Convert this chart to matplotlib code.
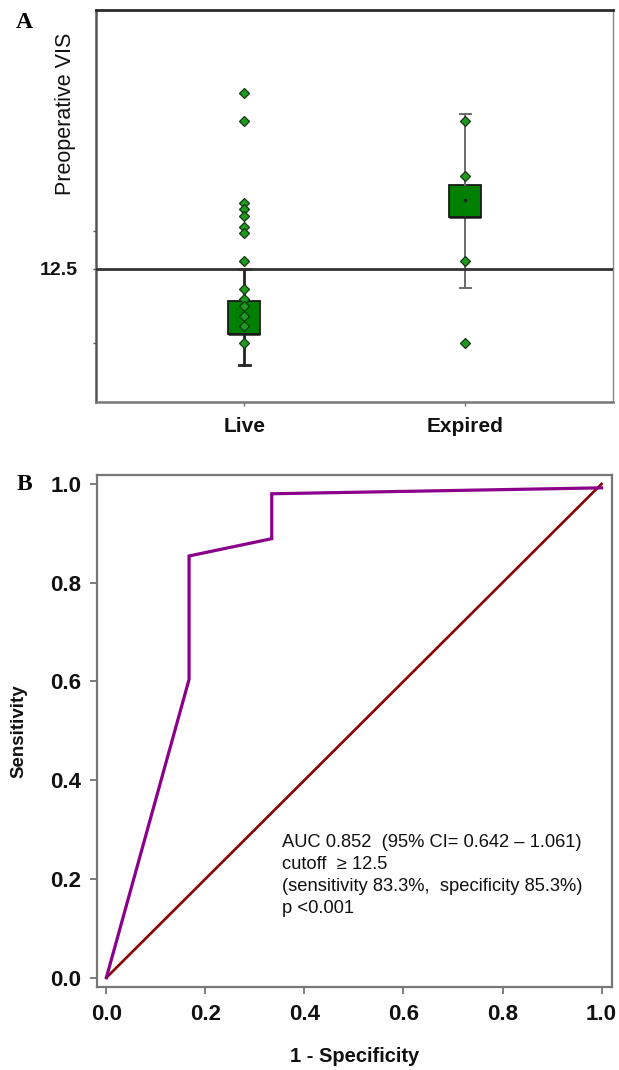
import numpy as np
import matplotlib
matplotlib.use("Agg")
import matplotlib.pyplot as plt

# ---------------- Data ----------------
# Panel A: preoperative VIS by outcome
categories = ["Live", "Expired"]
live_vis = [110, 78, 28.2, 26.2, 24.1, 21.1, 19.4, 13.8, 9.8, 8.65, 7.9, 7.0, 6.2, 5.0]
expired_vis = [78, 39.4, 13.8, 5.0]
box_q1 = [5.6, 23.9]
box_q3 = [8.4, 35.4]
box_med = [5.6, 23.9]
box_mean = [7.0, 29.2]
whisker_low = [3.8, 9.9]
whisker_high = [12.5, 85.2]
cutoff = 12.5
a_ticks = [5, 12.5, 20]
a_ticklabels = ["", "12.5", ""]

# Panel B: ROC curve
roc_fpr = [0.0, 0.167, 0.167, 0.334, 0.334, 1.0]
roc_tpr = [0.0, 0.604, 0.854, 0.889, 0.980, 0.992]
ref_x = [0.0, 1.0]
ref_y = [0.0, 1.0]
b_ticks = [0.0, 0.2, 0.4, 0.6, 0.8, 1.0]
annot_lines = ["AUC 0.852  (95% CI= 0.642 \u2013 1.061)",
               "cutoff  \u2265 12.5",
               "(sensitivity 83.3%,  specificity 85.3%)",
               "p <0.001"]

# ---------------- Figure ----------------
W, H = 619, 1070
fig = plt.figure(figsize=(W / 100, H / 100), dpi=100)
sans = ["Liberation Sans", "DejaVu Sans"]
serif = ["Liberation Serif", "DejaVu Serif"]

def fx(px):
    return px / W

def fy(py):
    return 1 - py / H

# ---------- Panel A ----------
axA = fig.add_axes([fx(96.3), fy(401.7), fx(613) - fx(96.3), fy(10) - fy(401.7)])
axA.set_yscale("log")
axA.set_xlim(0.33, 2.67)
axA.set_ylim(2.42, 307.6)

positions = [1, 2]
stats = []
for i, c in enumerate(categories):
    stats.append(dict(label=c, q1=box_q1[i], q3=box_q3[i], med=box_med[i],
                      mean=box_mean[i], whislo=whisker_low[i], whishi=whisker_high[i],
                      fliers=[]))
res = axA.bxp(stats, positions=positions, widths=0.143, capwidths=0.05,
              patch_artist=True, showmeans=True, manage_ticks=False,
              boxprops=dict(facecolor="#008000", edgecolor="#1a1a1a", linewidth=1.3),
              medianprops=dict(color="#1a1a1a", linewidth=1.8),
              whiskerprops=dict(color="#222222", linewidth=2.0),
              capprops=dict(color="#222222", linewidth=2.0),
              meanprops=dict(marker="o", markersize=1.6, markerfacecolor="#222222",
                             markeredgecolor="#222222"))
# second group's whiskers lighter and thinner
for ln in res["whiskers"][2:] + res["caps"][2:]:
    ln.set_color("#6a6a6a")
    ln.set_linewidth(1.4)

axA.axhline(cutoff, color="#333333", lw=2.0, zorder=3)

mk = dict(marker="D", linestyle="none", markersize=4.8, markerfacecolor="#1e9a1e",
          markeredgecolor="#143814", markeredgewidth=0.9, zorder=5)
axA.plot(np.full(len(live_vis), positions[0]), live_vis, **mk)
axA.plot(np.full(len(expired_vis), positions[1]), expired_vis, **mk)

axA.set_yticks(a_ticks)
axA.set_yticklabels(a_ticklabels)
axA.yaxis.set_minor_locator(matplotlib.ticker.NullLocator())
axA.tick_params(axis="y", length=2.5, width=1, color="#555555", pad=11,
                labelsize=14, labelcolor="#111111")
for t in axA.get_yticklabels():
    t.set_fontfamily(sans)
    t.set_fontweight("bold")
axA.set_xticks(positions)
axA.set_xticklabels(categories, fontfamily=sans, fontweight="bold", fontsize=15)
axA.tick_params(axis="x", length=3, width=1, color="#777777", pad=8, labelcolor="#111111")

axA.spines["top"].set_color("#2a2a2a")
axA.spines["top"].set_linewidth(2.0)
axA.spines["left"].set_color("#555555")
axA.spines["left"].set_linewidth(1.8)
axA.spines["bottom"].set_color("#777777")
axA.spines["bottom"].set_linewidth(1.8)
axA.spines["right"].set_color("#888888")
axA.spines["right"].set_linewidth(1.0)

fig.text(fx(65), fy(113.5), "Preoperative VIS", rotation=90, ha="center", va="center",
         fontfamily=sans, fontsize=15.5, color="#111111")
fig.text(fx(24), fy(23), "A", ha="center", va="center", fontfamily=serif,
         fontweight="bold", fontsize=17)

# ---------- Panel B ----------
axB = fig.add_axes([fx(96.7), fy(987.3), fx(611.7) - fx(96.7), fy(475) - fy(987.3)])
axB.set_xlim(-0.0195, 1.0205)
axB.set_ylim(-0.0195, 1.018)

axB.plot(ref_x, ref_y, color="#8b0000", lw=1.9, zorder=3)
axB.plot(roc_fpr, roc_tpr, color="#8b008b", lw=2.3, zorder=4, solid_joinstyle="miter")

axB.set_xticks(b_ticks)
axB.set_yticks(b_ticks)
axB.set_xticklabels([f"{v:.1f}" for v in b_ticks])
axB.set_yticklabels([f"{v:.1f}" for v in b_ticks])
axB.tick_params(axis="y", length=5, width=1.2, color="#666666", pad=6, labelsize=16,
                labelcolor="#111111")
axB.tick_params(axis="x", length=5, width=1.2, color="#666666", pad=7, labelsize=16,
                labelcolor="#111111")
for t in axB.get_xticklabels() + axB.get_yticklabels():
    t.set_fontfamily(sans)
    t.set_fontweight("bold")
for s in axB.spines.values():
    s.set_color("#777777")
    s.set_linewidth(1.6)

axB.set_xlabel("1 - Specificity", fontfamily=sans, fontweight="bold", fontsize=14.5,
               color="#111111")
axB.xaxis.label.set_va("center")
axB.xaxis.set_label_coords(0.5, (987.3 - 1057) / (987.3 - 475))
axB.set_ylabel("Sensitivity", fontfamily=sans, fontweight="bold", fontsize=13.5,
               color="#111111")
axB.yaxis.label.set_va("center")
axB.yaxis.set_label_coords((19 - 96.7) / (611.7 - 96.7), 0.5)

axB.text(0.354, 0.290, "\n".join(annot_lines), ha="left", va="top",
         fontfamily=sans, fontsize=13.2, linespacing=1.38, color="#111111")

fig.text(fx(24), fy(484), "B", ha="center", va="center", fontfamily=serif,
         fontweight="bold", fontsize=17)

fig.savefig("out.png", dpi=100, facecolor="white")
